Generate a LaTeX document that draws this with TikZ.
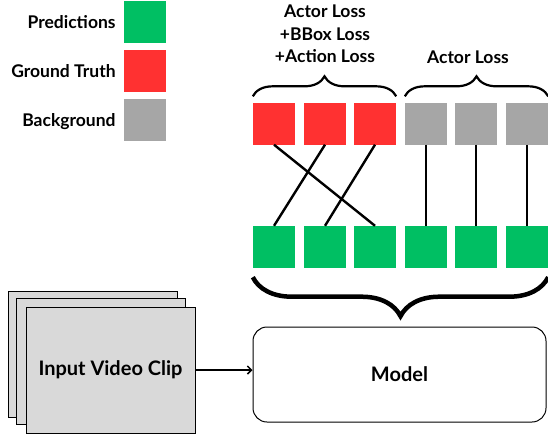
\documentclass[tikz,border=0pt]{standalone}
\usepackage{fontspec}
\setmainfont{Lato}
\usetikzlibrary{positioning,decorations.pathreplacing,arrows.meta}
\definecolor{predgreen}{HTML}{00BF63}
\definecolor{gtred}{HTML}{FF3131}
\definecolor{bggray}{HTML}{A6A6A6}
\definecolor{clipgray}{HTML}{D9D9D9}

\begin{document}
\begin{tikzpicture}[x=1pt,y=-1pt]
\tikzset{lbl/.style={font=\bfseries\fontsize{17.5}{22.5}\selectfont, inner sep=0pt},
         biglbl/.style={font=\bfseries\fontsize{20}{24}\selectfont, inner sep=0pt},
         sq/.style={minimum size=42pt, inner sep=0pt},
         predsq/.style={sq, fill=predgreen},
         gtsq/.style={sq, fill=gtred},
         bgsq/.style={sq, fill=bggray},
         match/.style={line width=2.4pt},
         clipframe/.style={draw, fill=clipgray, line width=1pt, minimum width=169pt, minimum height=126pt},
         bracetop/.style={decorate, decoration={brace, amplitude=20pt}, line width=2.2pt},
         bracebot/.style={decorate, decoration={brace, amplitude=39pt}, line width=4.5pt}}
\useasboundingbox (0,0) rectangle (548,437);

% legend
\node[predsq] (legpred) at (145,22) {};
\node[gtsq] (leggt) at (145,71) {};
\node[bgsq] (legbg) at (145,120) {};
\node[lbl, text height=12.6pt, text depth=0pt, left=8pt of legpred] (legpredtxt) {Predictions};
\node[lbl, text height=12.6pt, text depth=0pt, left=8pt of leggt] (leggttxt) {Ground Truth};
\node[lbl, text height=12.6pt, text depth=0pt, left=8pt of legbg] (legbgtxt) {Background};

% ground truth / background slots
\node[gtsq] (t1) at (274,123.5) {};
\node[gtsq] (t2) at (325,123.5) {};
\node[gtsq] (t3) at (375,123.5) {};
\node[bgsq] (t4) at (426,123.5) {};
\node[bgsq] (t5) at (476,123.5) {};
\node[bgsq] (t6) at (527,123.5) {};

% predictions
\node[predsq] (p1) at (274,247) {};
\node[predsq] (p2) at (325,247) {};
\node[predsq] (p3) at (375,247) {};
\node[predsq] (p4) at (426,247) {};
\node[predsq] (p5) at (476,247) {};
\node[predsq] (p6) at (527,247) {};

% matching
\draw[match] (t1.south) -- (p3.north);
\draw[match] (t2.south) -- (p1.north);
\draw[match] (t3.south) -- (p2.north);
\draw[match] (t4.south) -- (p4.north);
\draw[match] (t5.south) -- (p5.north);
\draw[match] (t6.south) -- (p6.north);

% losses
\draw[bracetop] ([yshift=6pt]t1.north west) -- ([yshift=6pt]t3.north east);
\draw[bracetop] ([yshift=6pt]t4.north west) -- ([yshift=6pt]t6.north east);
\node[lbl, align=center] (fgloss) at (325,34) {Actor Loss\\+BBox Loss\\+Action Loss};
\node[lbl] (bgloss) at (468,57) {Actor Loss};

% input and model
\node[clipframe] (clipback) at (92.5,354) {};
\node[clipframe] (clipmid) at (100.5,361.5) {};
\node[clipframe, biglbl] (clip) at (110.5,370) {Input Video Clip};
\node[draw, rounded corners=14pt, line width=1pt, minimum width=293pt, minimum height=95pt, biglbl] (model) at (399.5,374.5) {Model};
\draw[-{Straight Barb[length=4pt,width=8pt]}, line width=1.5pt] (clip.east) -- (clip.east -| model.west);
\draw[bracebot] ([yshift=-9pt]p6.south east) -- ([yshift=-9pt]p1.south west);
\end{tikzpicture}
\end{document}
